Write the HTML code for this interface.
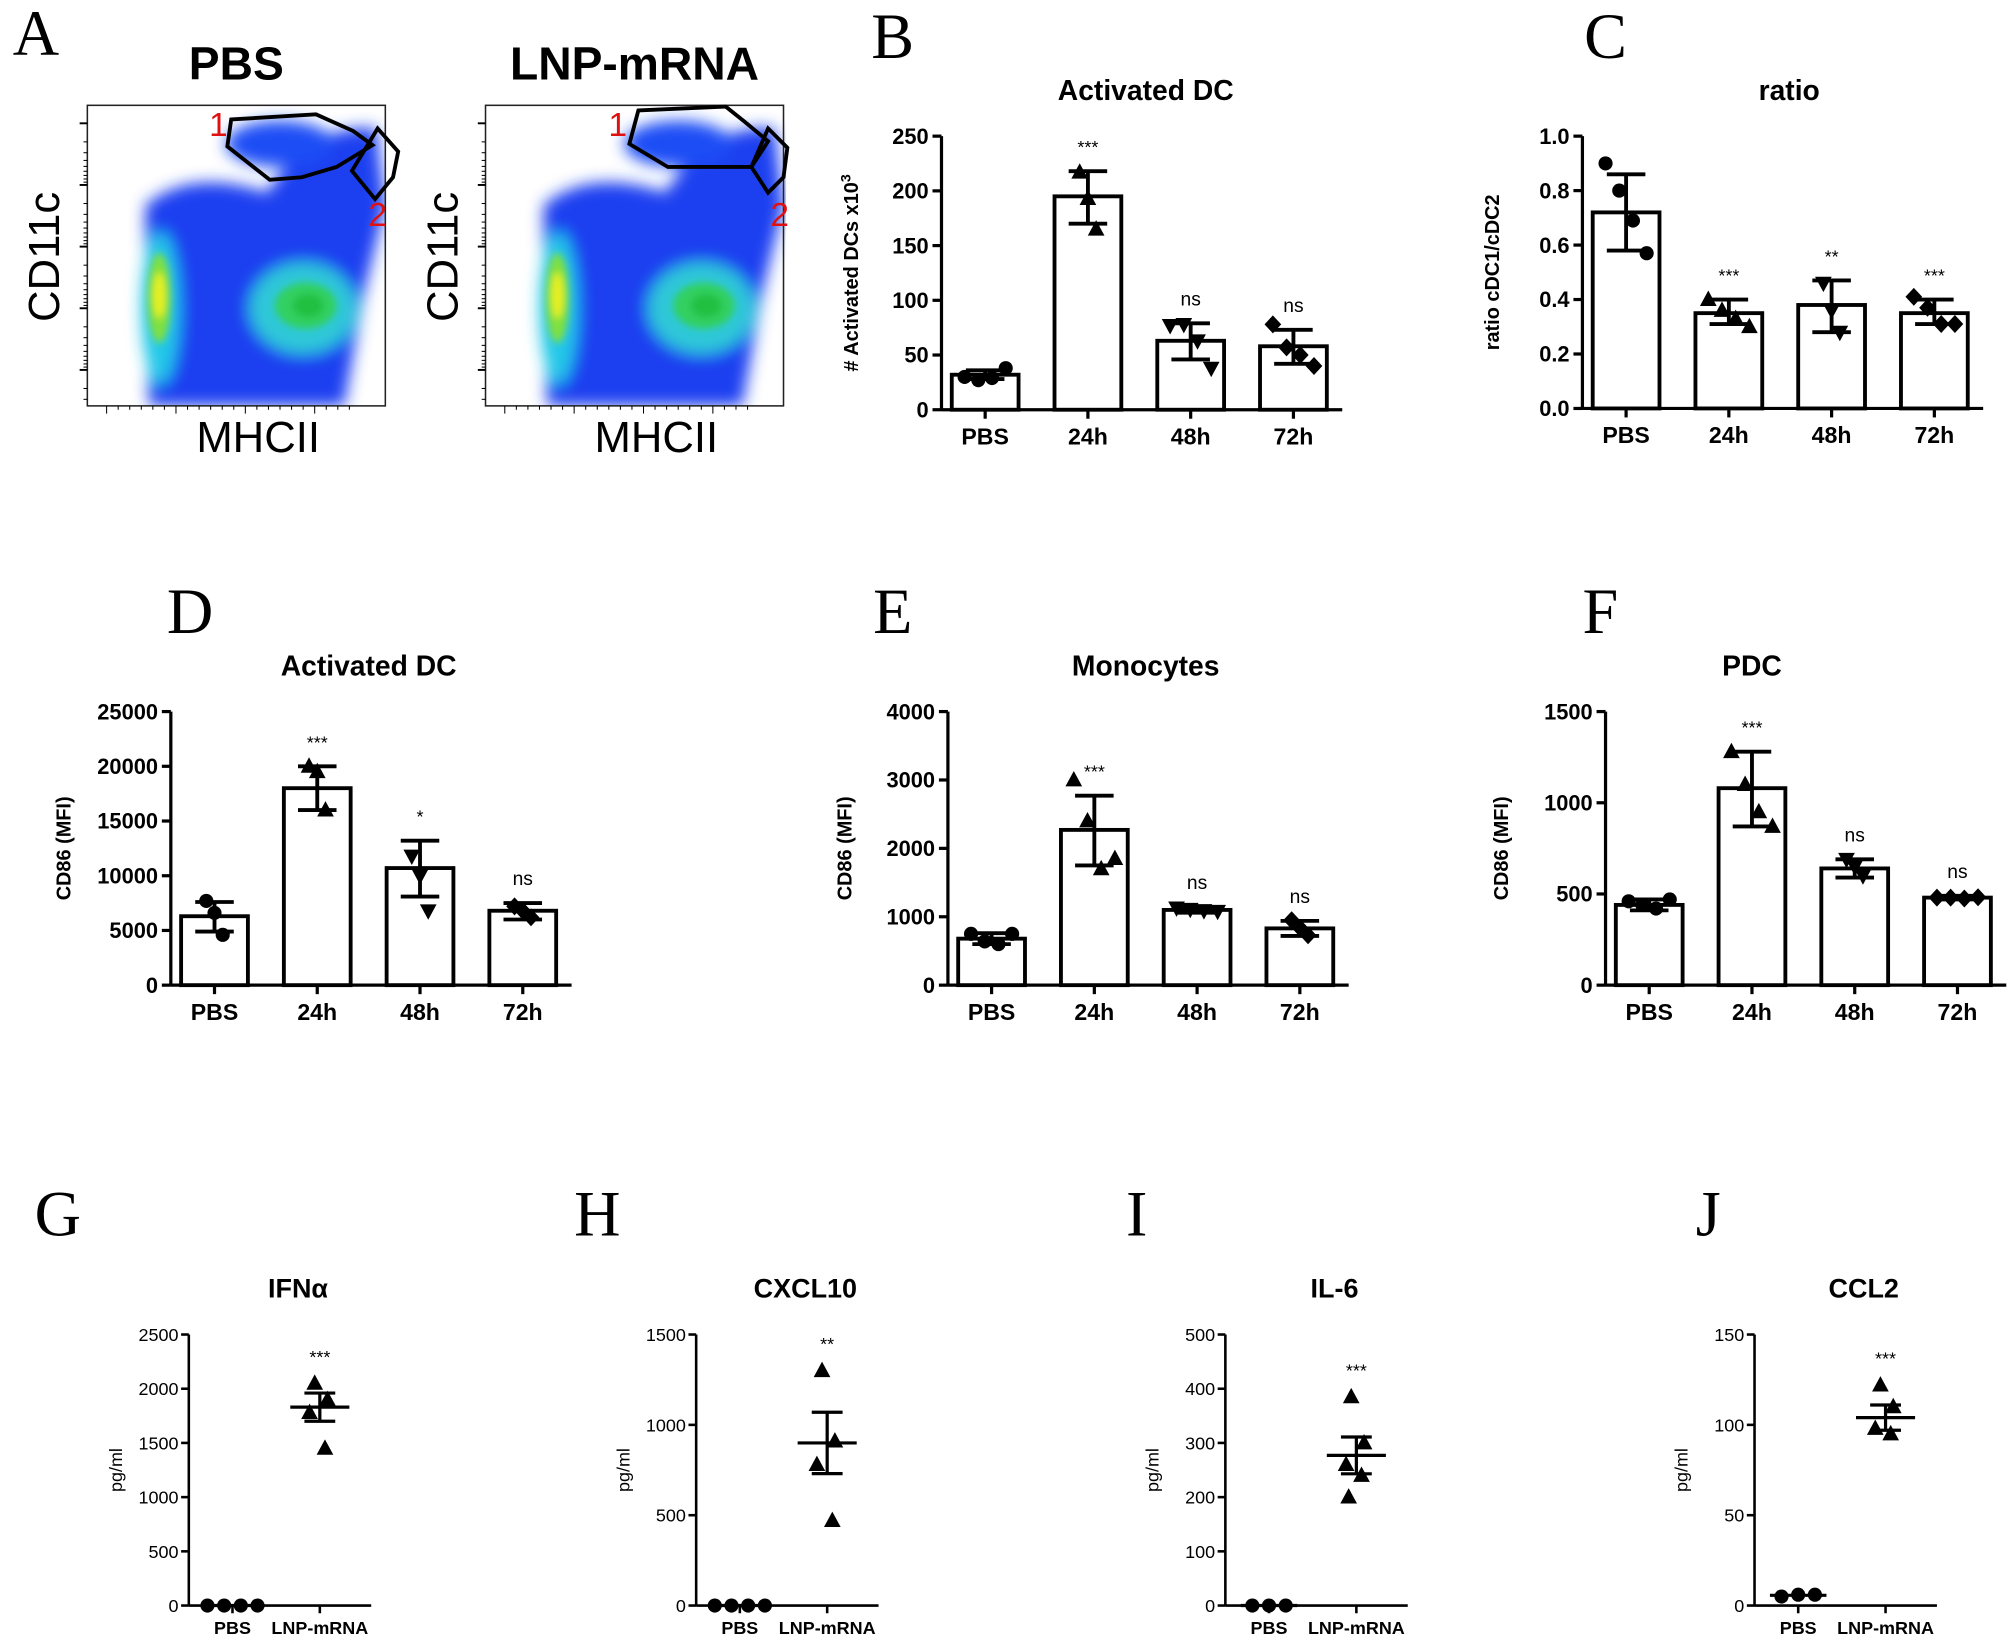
<!DOCTYPE html>
<html><head><meta charset="utf-8"><style>
html,body{margin:0;padding:0;background:#fff}
svg{display:block}
text{font-family:"Liberation Sans",Arial,sans-serif}
.b{font-weight:bold}
.ser{font-family:"Liberation Serif","Times New Roman",serif}
</style></head><body>
<svg id="fig" xmlns="http://www.w3.org/2000/svg" width="2014" height="1646" viewBox="0 0 1568 1281.5">
<defs>
<filter id="bl" x="-50%" y="-50%" width="200%" height="200%"><feGaussianBlur stdDeviation="6"/></filter>
<filter id="bl2" x="-50%" y="-50%" width="200%" height="200%"><feGaussianBlur stdDeviation="3"/></filter>
<clipPath id="c1"><rect x="68" y="82" width="232" height="234"/></clipPath>
<clipPath id="c2"><rect x="378" y="82" width="234" height="234"/></clipPath>
</defs>
<rect width="1568" height="1282" fill="#fff"/>
<g id="panelA"></g>
<g id="charts"></g>
</svg>
<script>
// ---------- Panel B ----------
const bCats=["PBS","24h","48h","72h"];
const bMeans=[32,195,63,58];
const bLo=[28,170,46,42];
const bHi=[36,218,79,73];
const bPts=[[30,27,29,38],[217,193,165],[77,78,63,38],[78,57,50,40]];
const bSig=["","***","ns","ns"];
const bTicks=[0,50,100,150,200,250];
// ---------- Panel C ----------
const cMeans=[0.72,0.35,0.38,0.35];
const cLo=[0.58,0.31,0.28,0.31];
const cHi=[0.86,0.40,0.47,0.40];
const cPts=[[0.90,0.80,0.69,0.57],[0.40,0.36,0.33,0.30],[0.46,0.36,0.28],[0.41,0.37,0.31,0.31]];
const cSig=["","***","**","***"];
const cTicks=[0.0,0.2,0.4,0.6,0.8,1.0];
// ---------- Panel D ----------
const dMeans=[6300,18000,10700,6800];
const dLo=[4900,16000,8100,6000];
const dHi=[7600,20000,13200,7500];
const dPts=[[7700,6600,4600],[20000,19500,16000],[11800,10000,6800],[7200,6800,6200]];
const dSig=["","***","*","ns"];
const dTicks=[0,5000,10000,15000,20000,25000];
// ---------- Panel E ----------
const eMeans=[680,2270,1100,830];
const eLo=[600,1750,1060,720];
const eHi=[760,2770,1140,940];
const ePts=[[750,640,600,750],[3000,2400,1700,1850],[1130,1110,1090,1080],[950,840,730]];
const eSig=["","***","ns","ns"];
const eTicks=[0,1000,2000,3000,4000];
// ---------- Panel F ----------
const fMeans=[440,1080,640,480];
const fLo=[410,870,590,470];
const fHi=[470,1280,690,490];
const fPts=[[460,440,420,470],[1280,1100,950,870],[690,650,600],[480,480,475,482]];
const fSig=["","***","ns","ns"];
const fTicks=[0,500,1000,1500];
// ---------- Bottom scatter panels ----------
const sCats=["PBS","LNP-mRNA"];
const gPbs=[0,0,0,0]; const gLnp=[2050,1900,1780,1450]; const gMean=1830; const gSem=[1700,1960]; const gTicks=[0,500,1000,1500,2000,2500];
const hPbs=[0,0,0,0]; const hLnp=[1300,910,780,470]; const hMean=900; const hSem=[730,1070]; const hTicks=[0,500,1000,1500];
const iPbs=[0,0,0]; const iLnp=[385,300,260,240,200]; const iMean=277; const iSem=[243,311]; const iTicks=[0,100,200,300,400,500];
const jPbs=[5,6,6]; const jLnp=[122,110,98,95]; const jMean=104; const jSem=[97,111]; const jTicks=[0,50,100,150];

const NS="http://www.w3.org/2000/svg";
const root=document.getElementById('charts');
function mk(tag,attrs,parent){const e=document.createElementNS(NS,tag);for(const k in attrs)e.setAttribute(k,attrs[k]);(parent||root).appendChild(e);return e;}
function txt(s,x,y,size,cls,anchor,parent,rot){const t=mk('text',{x:x,y:y,'font-size':size,'text-anchor':anchor||'middle',class:cls||''},parent);if(rot)t.setAttribute('transform','rotate(-90 '+x+' '+y+')');t.textContent=s;return t;}
function marker(shape,x,y,g){
  let e;
  if(shape==='circle')e=mk('circle',{cx:x,cy:y,r:5.5,fill:'#000'},g);
  else if(shape==='up')e=mk('polygon',{points:`${x},${y-7} ${x-6.5},${y+5} ${x+6.5},${y+5}`,fill:'#000'},g);
  else if(shape==='down')e=mk('polygon',{points:`${x},${y+7} ${x-6.5},${y-5} ${x+6.5},${y-5}`,fill:'#000'},g);
  else e=mk('polygon',{points:`${x},${y-7} ${x+6.5},${y} ${x},${y+7} ${x-6.5},${y}`,fill:'#000'},g);
  return e;
}
const shapes=['circle','up','down','diamond'];

function barPanel(o){
  const g=mk('g',{});
  
  
  const max=o.ticks[o.ticks.length-1];
  const Y=v=>o.y0-(v/max)*(o.y0-o.ytop);
  const X=i=>o.ax+34+i*80;
  const L=txt(o.letter,o.lx,o.ly,50,'ser','middle',g);
  
  const T=txt(o.title,o.tx,o.ly+33,22,'b','middle',g);
  
  const yl=txt(o.ylabel,o.ylx,(o.y0+o.ytop)/2,15.5,'b','middle',g,true);
  
  if(o.sup){const s=mk('tspan',{dy:-6,'font-size':11},yl);s.textContent='3';}
  const ya=mk('line',{x1:o.ax,y1:o.ytop,x2:o.ax,y2:o.y0,stroke:'#000','stroke-width':2.5},g);
  
  const xa=mk('line',{x1:o.ax,y1:o.y0,x2:o.ax+312,y2:o.y0,stroke:'#000','stroke-width':2.5},g);
  
  o.ticks.forEach(t=>{
    mk('line',{x1:o.ax-7,y1:Y(t),x2:o.ax,y2:Y(t),stroke:'#000','stroke-width':2.5},g);
    const tl=txt(o.fmt?o.fmt(t):String(t),o.ax-10,Y(t)+6,17,'b','end',g);
    
  });
  o.cats.forEach((c,i)=>{
    const x=X(i);
    mk('line',{x1:x,y1:o.y0,x2:x,y2:o.y0+7,stroke:'#000','stroke-width':2.5},g);
    const cl=txt(c,x,o.y0+27,18,'b','middle',g);
    
    const bar=mk('rect',{x:x-26,y:Y(o.means[i]),width:52,height:o.y0-Y(o.means[i]),fill:'#fff',stroke:'#000','stroke-width':3},g);
    
    const pts=o.pts[i];
    pts.forEach((v,j)=>{
      const off=pts.length===1?0:(-16+32*j/(pts.length-1));
      const m=marker(shapes[i],x+off*(pts.length===3?0.4:1),Y(v),g);
      
    });
    const eb=mk('path',{d:`M${x},${Y(o.lo[i])}V${Y(o.hi[i])}M${x-15},${Y(o.lo[i])}H${x+15}M${x-15},${Y(o.hi[i])}H${x+15}`,stroke:'#000','stroke-width':3,fill:'none'},g);
    
    if(o.sig[i]){const s=txt(o.sig[i],x,Y(o.hi[i])-14,o.sig[i]==='ns'?15:14,'','middle',g);
      }
  });
}
barPanel({name:'chart-b-activated-dc',letter:'B',lx:695,ly:45,tx:892,title:'Activated DC',ax:733,y0:319,ytop:106,ticks:bTicks,cats:bCats,means:bMeans,lo:bLo,hi:bHi,pts:bPts,sig:bSig,ylabel:'# Activated DCs x10',ylx:668,sup:true});
barPanel({name:'chart-c-ratio',letter:'C',lx:1250,ly:45,tx:1393,title:'ratio',ax:1232,y0:318,ytop:106,ticks:cTicks,cats:bCats,means:cMeans,lo:cLo,hi:cHi,pts:cPts,sig:cSig,ylabel:'ratio cDC1/cDC2',ylx:1167,fmt:v=>v.toFixed(1)});
barPanel({name:'chart-d-activated-dc-cd86',letter:'D',lx:148,ly:493,tx:287,title:'Activated DC',ax:133,y0:767,ytop:554,ticks:dTicks,cats:bCats,means:dMeans,lo:dLo,hi:dHi,pts:dPts,sig:dSig,ylabel:'CD86 (MFI)',ylx:55});
barPanel({name:'chart-e-monocytes',letter:'E',lx:695,ly:493,tx:892,title:'Monocytes',ax:738,y0:767,ytop:554,ticks:eTicks,cats:bCats,means:eMeans,lo:eLo,hi:eHi,pts:ePts,sig:eSig,ylabel:'CD86 (MFI)',ylx:663});
barPanel({name:'chart-f-pdc',letter:'F',lx:1246,ly:493,tx:1364,title:'PDC',ax:1250,y0:767,ytop:554,ticks:fTicks,cats:bCats,means:fMeans,lo:fLo,hi:fHi,pts:fPts,sig:fSig,ylabel:'CD86 (MFI)',ylx:1174});

function scatterPanel(o){
  const g=mk('g',{});
  
  
  const max=o.ticks[o.ticks.length-1];
  const Y=v=>o.y0-(v/max)*(o.y0-o.ytop);
  const xs=[o.ax+34,o.ax+102];
  const L=txt(o.letter,o.lx,962,50,'ser','middle',g);
  
  const T=txt(o.title,o.ax+85,1010,21,'b','middle',g);
  
  const yl=txt('pg/ml',o.ax-52,(o.y0+o.ytop)/2,14,'','middle',g,true);
  
  const ya=mk('line',{x1:o.ax,y1:o.ytop,x2:o.ax,y2:o.y0,stroke:'#000','stroke-width':2},g);
  
  const xa=mk('line',{x1:o.ax,y1:o.y0,x2:o.ax+142,y2:o.y0,stroke:'#000','stroke-width':2},g);
  
  o.ticks.forEach(t=>{
    mk('line',{x1:o.ax-6,y1:Y(t),x2:o.ax,y2:Y(t),stroke:'#000','stroke-width':2},g);
    const tl=txt(String(t),o.ax-8,Y(t)+5,14,'','end',g);
    
  });
  sCats.forEach((c,i)=>{
    mk('line',{x1:xs[i],y1:o.y0,x2:xs[i],y2:o.y0+6,stroke:'#000','stroke-width':2},g);
    const cl=txt(c,xs[i],o.y0+22,14,'b','middle',g);
    
  });
  const n0=o.pbs.length;
  o.pbs.forEach((v,j)=>{const m=marker('circle',xs[0]-(n0-1)*6.5+j*13,Y(v),g);
    });
  const pm=o.pbs.reduce((a,b)=>a+b,0)/n0;
  mk('line',{x1:xs[0]-22,y1:Y(pm),x2:xs[0]+22,y2:Y(pm),stroke:'#000','stroke-width':2.5},g);
  o.lnp.forEach((v,j)=>{const off=(j%2===0?-1:1)*(4+ (j%3)*2);const m=marker('up',xs[1]+off,Y(v),g);
    });
  const ml=mk('line',{x1:xs[1]-23,y1:Y(o.mean),x2:xs[1]+23,y2:Y(o.mean),stroke:'#000','stroke-width':2.5},g);
  
  const eb=mk('path',{d:`M${xs[1]},${Y(o.sem[0])}V${Y(o.sem[1])}M${xs[1]-12},${Y(o.sem[0])}H${xs[1]+12}M${xs[1]-12},${Y(o.sem[1])}H${xs[1]+12}`,stroke:'#000','stroke-width':2.5,fill:'none'},g);
  
  const top=Math.max(...o.lnp);
  const s=txt(o.sig,xs[1],Y(top)-16,14,'','middle',g);
  
}
scatterPanel({name:'chart-g-ifna',letter:'G',lx:45,title:'IFNα',ax:147,y0:1250,ytop:1039,ticks:gTicks,pbs:gPbs,lnp:gLnp,mean:gMean,sem:gSem,sig:'***'});
scatterPanel({name:'chart-h-cxcl10',letter:'H',lx:465,title:'CXCL10',ax:542,y0:1250,ytop:1039,ticks:hTicks,pbs:hPbs,lnp:hLnp,mean:hMean,sem:hSem,sig:'**'});
scatterPanel({name:'chart-i-il6',letter:'I',lx:885,title:'IL-6',ax:954,y0:1250,ytop:1039,ticks:iTicks,pbs:iPbs,lnp:iLnp,mean:iMean,sem:iSem,sig:'***'});
scatterPanel({name:'chart-j-ccl2',letter:'J',lx:1330,title:'CCL2',ax:1366,y0:1250,ytop:1039,ticks:jTicks,pbs:jPbs,lnp:jLnp,mean:jMean,sem:jSem,sig:'***'});

// ---------- Panel A (flow cytometry plots) ----------
const A=document.getElementById('panelA');
function flow(ox,title,gate1,gate2,l1,l2,name,clip){
  const g=mk('g',{},A);
  
  
  const t=txt(title,ox+116,62,36,'b','middle',g);
  
  const d=mk('g',{'clip-path':'url(#'+clip+')'},g);
  
  const b=mk('g',{filter:'url(#bl)'},d);
  mk('path',{d:`M${ox+48},316 L${ox+45},160 Q${ox+80},130 ${ox+140},150 Q${ox+175},95 ${ox+225},100 L${ox+232},160 L${ox+215},230 L${ox+200},316 Z`,fill:'#1f3ff0'},b);
  mk('ellipse',{cx:ox+150,cy:112,rx:42,ry:18,fill:'#1a4df5'},b);
  mk('ellipse',{cx:ox+57,cy:240,rx:15,ry:60,fill:'#22c8e8'},b);
  mk('ellipse',{cx:ox+168,cy:240,rx:42,ry:36,fill:'#2ec8d8'},b);
  const c=mk('g',{filter:'url(#bl2)'},d);
  mk('ellipse',{cx:ox+56,cy:232,rx:9,ry:35,fill:'#7fe040'},c);
  mk('ellipse',{cx:ox+56,cy:230,rx:5,ry:18,fill:'#e8f020'},c);
  mk('ellipse',{cx:ox+170,cy:238,rx:24,ry:18,fill:'#30d060'},c);
  mk('ellipse',{cx:ox+172,cy:238,rx:12,ry:9,fill:'#20c040'},c);
  mk('rect',{x:ox,y:82,width:232,height:234,fill:'none',stroke:'#222','stroke-width':1.2},g);
  for(let k=0;k<5;k++){const y=96+k*48;mk('line',{x1:ox-6,y1:y,x2:ox,y2:y,stroke:'#000','stroke-width':1.5},g);
    for(let m=1;m<9;m++){const yy=y+48*Math.log10(m+1);if(yy<316)mk('line',{x1:ox-3,y1:yy,x2:ox,y2:yy,stroke:'#000','stroke-width':0.8},g);}}
  for(let k=0;k<22;k++){const x=ox+15+k*9;mk('line',{x1:x,y1:316,x2:x,y2:316+(k%6===0?6:3),stroke:'#000','stroke-width':0.8},g);}
  const p1=mk('polygon',{points:gate1,fill:'none',stroke:'#000','stroke-width':3},g);
  
  const p2=mk('polygon',{points:gate2,fill:'none',stroke:'#000','stroke-width':3},g);
  
  const r1=txt('1',l1[0],l1[1],26,'','middle',g);r1.setAttribute('fill','#e01010');
  
  const r2=txt('2',l2[0],l2[1],26,'','middle',g);r2.setAttribute('fill','#e01010');
  
  const yl=txt('CD11c',ox-22,200,34,'','middle',g,true);
  
  const xl=txt('MHCII',ox+133,352,34,'','middle',g);
  
}
const la=txt('A',28,43,50,'ser','middle',A);

flow(68,'PBS','180,93 246,89 275,102 290,113 262,130 235,138 210,140 177,114','274,133 294,100 310,118 306,138 292,155',[170,106],[294,176],'flow-plot-pbs','c1');
flow(378,'LNP-mRNA','497,86 565,83 580,95 598,110 585,130 560,130 520,130 490,112','585,130 598,100 613,115 610,138 598,150',[481,106],[607,176],'flow-plot-lnp','c2');
</script>
</body></html>
